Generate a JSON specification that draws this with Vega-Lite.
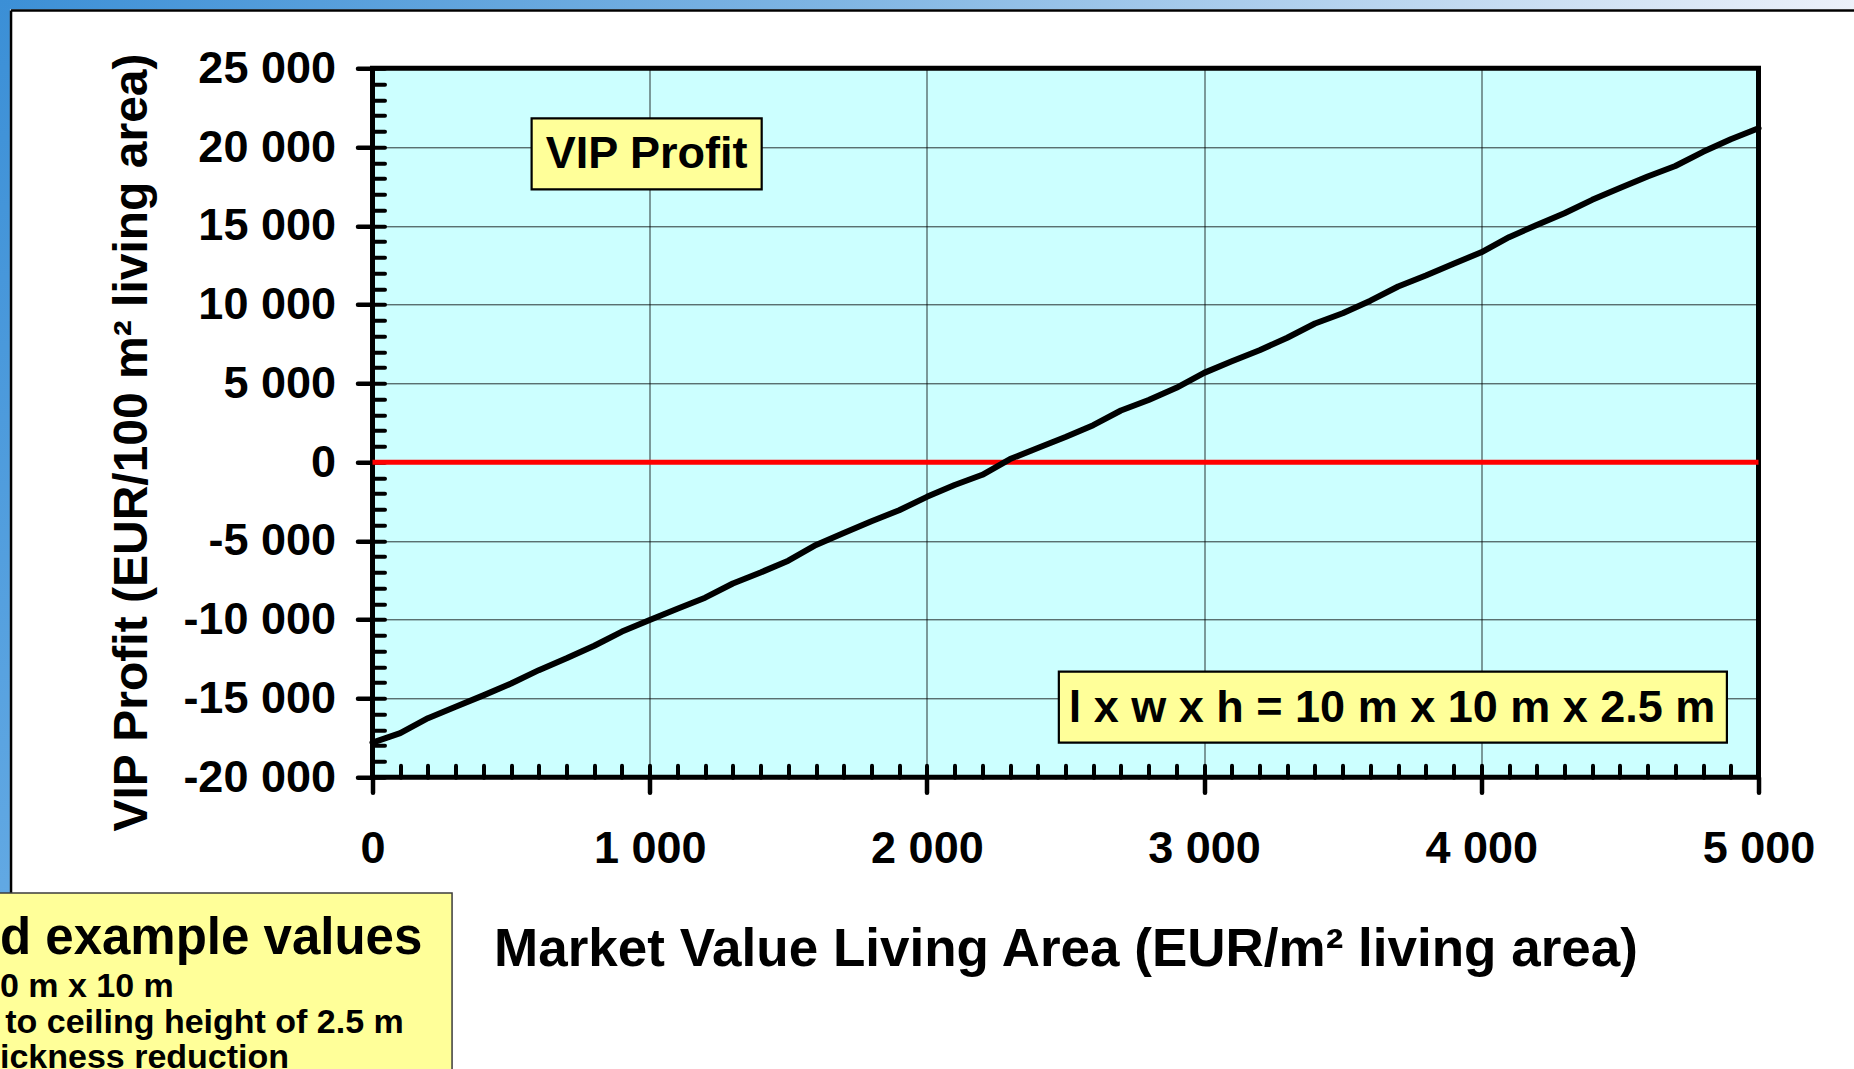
{
  "$schema": "https://vega.github.io/schema/vega-lite/v6.json",
  "width": 1386,
  "height": 709,
  "autosize": {"type": "none"},
  "padding": {"left": 372.5, "top": 68.3, "right": 95.5, "bottom": 291.7},
  "background": "#ffffff",
  "config": {
    "view": {"fill": "#ccffff", "stroke": "#000000", "strokeWidth": 5},
    "font": "Liberation Sans"
  },
  "resolve": {"axis": {"x": "independent", "y": "independent"}},
  "layer": [
    {
      "data": {"values": [{}]},
      "mark": {"type": "rect", "strokeWidth": 0, "fill": {"gradient": "linear", "x1": 0, "y1": 0, "x2": 1, "y2": 0, "stops": [{"offset": 0, "color": "#3b8fd6"}, {"offset": 0.45, "color": "#7fb5e3"}, {"offset": 1, "color": "#eef2fa"}]}},
      "encoding": {
        "x": {"datum": -1400, "type": "quantitative", "axis": null},
        "x2": {"datum": 5400},
        "y": {"datum": 29500, "type": "quantitative", "axis": null},
        "y2": {"datum": 28732}
      }
    },
    {
      "data": {"values": [{}]},
      "mark": {"type": "rect", "strokeWidth": 0, "fill": {"gradient": "linear", "x1": 0, "y1": 0, "x2": 0, "y2": 1, "stops": [{"offset": 0, "color": "#3b8fd6"}, {"offset": 1, "color": "#6aaee6"}]}},
      "encoding": {
        "x": {"datum": -1400, "type": "quantitative", "axis": null},
        "x2": {"datum": -1308},
        "y": {"datum": 29500, "type": "quantitative", "axis": null},
        "y2": {"datum": -40000}
      }
    },
    {
      "data": {"values": [{}]},
      "mark": {"type": "rule", "color": "#000000", "strokeWidth": 2.5},
      "encoding": {
        "x": {"datum": -1304, "type": "quantitative", "axis": null},
        "x2": {"datum": 5400},
        "y": {"datum": 28668, "type": "quantitative", "axis": null}
      }
    },
    {
      "data": {"values": [{}]},
      "mark": {"type": "rule", "color": "#000000", "strokeWidth": 2.5},
      "encoding": {
        "x": {"datum": -1304, "type": "quantitative", "axis": null},
        "y": {"datum": 28668, "type": "quantitative", "axis": null},
        "y2": {"datum": -27343}
      }
    },
    {
      "data": {"values": [{}]},
      "mark": {"type": "rule", "color": "#ff0000", "strokeWidth": 5},
      "encoding": {
        "y": {
          "datum": 0,
          "type": "quantitative",
          "axis": {
            "orient": "left",
            "values": [-20000, -19000, -18000, -17000, -16000, -15000, -14000, -13000, -12000, -11000, -10000, -9000, -8000, -7000, -6000, -5000, -4000, -3000, -2000, -1000, 0, 1000, 2000, 3000, 4000, 5000, 6000, 7000, 8000, 9000, 10000, 11000, 12000, 13000, 14000, 15000, 16000, 17000, 18000, 19000, 20000, 21000, 22000, 23000, 24000, 25000],
            "domain": false,
            "grid": false,
            "labels": false,
            "ticks": true,
            "tickSize": -12,
            "tickWidth": 4,
            "tickColor": "#000000",
            "tickCap": "round",
            "title": null,
            "zindex": 0
          }
        }
      }
    },
    {
      "data": {"values": [
        {"market_value": 0, "vip_profit": -17800},
        {"market_value": 100, "vip_profit": -17200},
        {"market_value": 200, "vip_profit": -16250},
        {"market_value": 300, "vip_profit": -15520},
        {"market_value": 400, "vip_profit": -14800},
        {"market_value": 500, "vip_profit": -14050},
        {"market_value": 600, "vip_profit": -13200},
        {"market_value": 700, "vip_profit": -12450},
        {"market_value": 800, "vip_profit": -11650},
        {"market_value": 900, "vip_profit": -10750},
        {"market_value": 1000, "vip_profit": -10020},
        {"market_value": 1100, "vip_profit": -9300},
        {"market_value": 1200, "vip_profit": -8600},
        {"market_value": 1300, "vip_profit": -7700},
        {"market_value": 1400, "vip_profit": -7000},
        {"market_value": 1500, "vip_profit": -6250},
        {"market_value": 1600, "vip_profit": -5250},
        {"market_value": 1700, "vip_profit": -4500},
        {"market_value": 1800, "vip_profit": -3750},
        {"market_value": 1900, "vip_profit": -3050},
        {"market_value": 2000, "vip_profit": -2200},
        {"market_value": 2100, "vip_profit": -1450},
        {"market_value": 2200, "vip_profit": -800},
        {"market_value": 2300, "vip_profit": 200},
        {"market_value": 2400, "vip_profit": 900},
        {"market_value": 2500, "vip_profit": 1600},
        {"market_value": 2600, "vip_profit": 2350},
        {"market_value": 2700, "vip_profit": 3280},
        {"market_value": 2800, "vip_profit": 3950},
        {"market_value": 2900, "vip_profit": 4720},
        {"market_value": 3000, "vip_profit": 5670},
        {"market_value": 3100, "vip_profit": 6400},
        {"market_value": 3200, "vip_profit": 7100},
        {"market_value": 3300, "vip_profit": 7900},
        {"market_value": 3400, "vip_profit": 8800},
        {"market_value": 3500, "vip_profit": 9450},
        {"market_value": 3600, "vip_profit": 10250},
        {"market_value": 3700, "vip_profit": 11150},
        {"market_value": 3800, "vip_profit": 11850},
        {"market_value": 3900, "vip_profit": 12600},
        {"market_value": 4000, "vip_profit": 13320},
        {"market_value": 4100, "vip_profit": 14280},
        {"market_value": 4200, "vip_profit": 15060},
        {"market_value": 4300, "vip_profit": 15800},
        {"market_value": 4400, "vip_profit": 16650},
        {"market_value": 4500, "vip_profit": 17400},
        {"market_value": 4600, "vip_profit": 18130},
        {"market_value": 4700, "vip_profit": 18800},
        {"market_value": 4800, "vip_profit": 19700},
        {"market_value": 4900, "vip_profit": 20500},
        {"market_value": 5000, "vip_profit": 21200}
      ]},
      "mark": {"type": "line", "color": "#000000", "strokeWidth": 6, "strokeJoin": "round", "strokeCap": "round"},
      "encoding": {
        "x": {
          "field": "market_value",
          "type": "quantitative",
          "scale": {"domain": [0, 5000], "nice": false, "zero": false},
          "axis": {
            "orient": "bottom",
            "values": [0, 1000, 2000, 3000, 4000, 5000],
            "domain": false,
            "grid": true,
            "gridColor": "#000000",
            "gridWidth": 1,
            "gridOpacity": 0.8,
            "ticks": true,
            "tickSize": 15,
            "tickWidth": 4.5,
            "tickColor": "#000000",
            "tickCap": "round",
            "labelFont": "Liberation Sans",
            "labelFontSize": 45,
            "labelFontWeight": "bold",
            "labelColor": "#000000",
            "labelPadding": 34,
            "labelFlush": false,
            "labelOverlap": false,
            "labelExpr": "replace(replace(format(datum.value, ','), regexp(',', 'g'), ' '), '\u2212', '-')",
            "title": "Market Value Living Area (EUR/m² living area)",
            "titleFont": "Liberation Sans",
            "titleFontSize": 53,
            "titleFontWeight": "bold",
            "titleColor": "#000000",
            "titleX": 693,
            "titleY": 188.5,
            "titleAlign": "center",
            "titleBaseline": "alphabetic",
            "titleAngle": 0,
            "zindex": 0
          }
        },
        "y": {
          "field": "vip_profit",
          "type": "quantitative",
          "scale": {"domain": [-20000, 25000], "nice": false, "zero": false},
          "axis": {
            "orient": "left",
            "values": [-20000, -15000, -10000, -5000, 0, 5000, 10000, 15000, 20000, 25000],
            "domain": false,
            "grid": true,
            "gridColor": "#000000",
            "gridWidth": 1,
            "gridOpacity": 0.8,
            "ticks": true,
            "tickSize": 15,
            "tickWidth": 4.5,
            "tickColor": "#000000",
            "tickCap": "round",
            "labelFont": "Liberation Sans",
            "labelFontSize": 45,
            "labelFontWeight": "bold",
            "labelColor": "#000000",
            "labelPadding": 22,
            "labelFlush": false,
            "labelOverlap": false,
            "labelExpr": "replace(replace(format(datum.value, ','), regexp(',', 'g'), ' '), '\u2212', '-')",
            "title": "VIP Profit (EUR/100 m² living area)",
            "titleFont": "Liberation Sans",
            "titleFontSize": 48,
            "titleFontWeight": "bold",
            "titleColor": "#000000",
            "titleX": -226,
            "titleY": 373.7,
            "titleAlign": "center",
            "titleBaseline": "alphabetic",
            "titleAngle": 270,
            "zindex": 0
          }
        }
      }
    },
    {
      "data": {"values": [{}]},
      "mark": {"type": "rect", "fill": "#ffff99", "stroke": "#000000", "strokeWidth": 2.2},
      "encoding": {
        "x": {
          "datum": 574,
          "type": "quantitative",
          "axis": {
            "orient": "bottom",
            "values": [0, 100, 200, 300, 400, 500, 600, 700, 800, 900, 1000, 1100, 1200, 1300, 1400, 1500, 1600, 1700, 1800, 1900, 2000, 2100, 2200, 2300, 2400, 2500, 2600, 2700, 2800, 2900, 3000, 3100, 3200, 3300, 3400, 3500, 3600, 3700, 3800, 3900, 4000, 4100, 4200, 4300, 4400, 4500, 4600, 4700, 4800, 4900, 5000],
            "domain": false,
            "grid": false,
            "labels": false,
            "ticks": true,
            "tickSize": -12,
            "tickWidth": 4,
            "tickColor": "#000000",
            "tickCap": "round",
            "title": null,
            "zindex": 0
          }
        },
        "x2": {"datum": 1404},
        "y": {"datum": 21827, "type": "quantitative", "axis": null},
        "y2": {"datum": 17320}
      }
    },
    {
      "data": {"values": [{}]},
      "mark": {"type": "text", "text": "VIP Profit", "font": "Liberation Sans", "fontSize": 45, "fontWeight": "bold", "color": "#000000", "align": "center", "baseline": "alphabetic"},
      "encoding": {
        "x": {"datum": 989, "type": "quantitative", "axis": null},
        "y": {"datum": 18653, "type": "quantitative", "axis": null}
      }
    },
    {
      "data": {"values": [{}]},
      "mark": {"type": "rect", "fill": "#ffff99", "stroke": "#000000", "strokeWidth": 2.2},
      "encoding": {
        "x": {"datum": 2476, "type": "quantitative", "axis": null},
        "x2": {"datum": 4886},
        "y": {"datum": -13298, "type": "quantitative", "axis": null},
        "y2": {"datum": -17804}
      }
    },
    {
      "data": {"values": [{}]},
      "mark": {"type": "text", "text": "l x w x h = 10 m x 10 m x 2.5 m", "font": "Liberation Sans", "fontSize": 45, "fontWeight": "bold", "color": "#000000", "align": "center", "baseline": "alphabetic"},
      "encoding": {
        "x": {"datum": 3678, "type": "quantitative", "axis": null},
        "y": {"datum": -16471, "type": "quantitative", "axis": null}
      }
    },
    {
      "data": {"values": [{}]},
      "mark": {"type": "rect", "fill": "#ffff99", "stroke": "#3c3c3c", "strokeWidth": 1.5},
      "encoding": {
        "x": {"datum": -1400, "type": "quantitative", "axis": null},
        "x2": {"datum": 287},
        "y": {"datum": -27343, "type": "quantitative", "axis": null},
        "y2": {"datum": -40000}
      }
    },
    {
      "data": {"values": [{}]},
      "mark": {"type": "text", "text": "d example values", "font": "Liberation Sans", "fontSize": 51, "fontWeight": "bold", "color": "#000000", "align": "left", "baseline": "alphabetic"},
      "encoding": {
        "x": {"datum": -1344, "type": "quantitative", "axis": null},
        "y": {"datum": -31215, "type": "quantitative", "axis": null}
      }
    },
    {
      "data": {"values": [{}]},
      "mark": {"type": "text", "text": "0 m x 10 m", "font": "Liberation Sans", "fontSize": 34, "fontWeight": "bold", "color": "#000000", "align": "left", "baseline": "alphabetic"},
      "encoding": {
        "x": {"datum": -1344, "type": "quantitative", "axis": null},
        "y": {"datum": -33944, "type": "quantitative", "axis": null}
      }
    },
    {
      "data": {"values": [{}]},
      "mark": {"type": "text", "text": "to ceiling height of 2.5 m", "font": "Liberation Sans", "fontSize": 34, "fontWeight": "bold", "color": "#000000", "align": "left", "baseline": "alphabetic"},
      "encoding": {
        "x": {"datum": -1325, "type": "quantitative", "axis": null},
        "y": {"datum": -36250, "type": "quantitative", "axis": null}
      }
    },
    {
      "data": {"values": [{}]},
      "mark": {"type": "text", "text": "ickness reduction", "font": "Liberation Sans", "fontSize": 34, "fontWeight": "bold", "color": "#000000", "align": "left", "baseline": "alphabetic"},
      "encoding": {
        "x": {"datum": -1344, "type": "quantitative", "axis": null},
        "y": {"datum": -38450, "type": "quantitative", "axis": null}
      }
    }
  ]
}
